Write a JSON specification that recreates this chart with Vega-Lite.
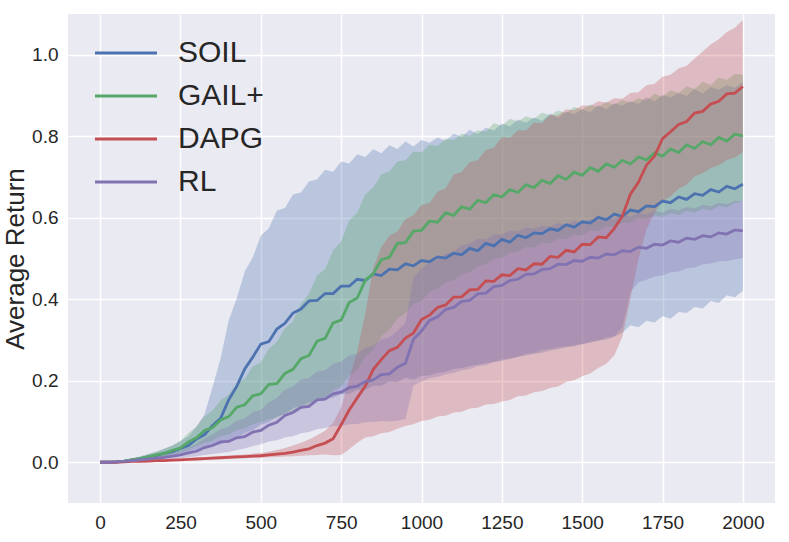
{
  "$schema": "https://vega.github.io/schema/vega-lite/v6.json",
  "width": 707, "height": 489,
  "autosize": {"type": "none"},
  "padding": {"left": 68, "top": 14, "right": 14, "bottom": 39},
  "background": "white",
  "config": {
    "font": "Liberation Sans",
    "view": {"fill": "#EAEAF2", "stroke": null},
    "axis": {
      "domain": false, "ticks": false,
      "grid": true, "gridColor": "white", "gridWidth": 1.5,
      "labelColor": "#262626", "labelFontSize": 19, "labelPadding": 10,
      "titleColor": "#262626", "titleFontWeight": "normal"
    }
  },
  "datasets": {
    "runs": [
      {"x":0,"s":"SOIL","m":0,"lo":0,"hi":0},
      {"x":25,"s":"SOIL","m":0.000,"lo":0.000,"hi":0.001},
      {"x":50,"s":"SOIL","m":0.001,"lo":0.000,"hi":0.003},
      {"x":75,"s":"SOIL","m":0.003,"lo":0.001,"hi":0.006},
      {"x":100,"s":"SOIL","m":0.006,"lo":0.003,"hi":0.010},
      {"x":125,"s":"SOIL","m":0.009,"lo":0.005,"hi":0.014},
      {"x":150,"s":"SOIL","m":0.013,"lo":0.007,"hi":0.020},
      {"x":175,"s":"SOIL","m":0.017,"lo":0.010,"hi":0.026},
      {"x":200,"s":"SOIL","m":0.022,"lo":0.012,"hi":0.033},
      {"x":225,"s":"SOIL","m":0.026,"lo":0.016,"hi":0.041},
      {"x":250,"s":"SOIL","m":0.034,"lo":0.020,"hi":0.052},
      {"x":275,"s":"SOIL","m":0.041,"lo":0.025,"hi":0.063},
      {"x":300,"s":"SOIL","m":0.057,"lo":0.030,"hi":0.088},
      {"x":325,"s":"SOIL","m":0.068,"lo":0.035,"hi":0.118},
      {"x":350,"s":"SOIL","m":0.090,"lo":0.041,"hi":0.185},
      {"x":375,"s":"SOIL","m":0.108,"lo":0.044,"hi":0.255},
      {"x":400,"s":"SOIL","m":0.153,"lo":0.052,"hi":0.348},
      {"x":425,"s":"SOIL","m":0.186,"lo":0.058,"hi":0.402},
      {"x":450,"s":"SOIL","m":0.229,"lo":0.072,"hi":0.468},
      {"x":475,"s":"SOIL","m":0.258,"lo":0.079,"hi":0.503},
      {"x":500,"s":"SOIL","m":0.290,"lo":0.092,"hi":0.556},
      {"x":525,"s":"SOIL","m":0.296,"lo":0.098,"hi":0.574},
      {"x":550,"s":"SOIL","m":0.327,"lo":0.112,"hi":0.618},
      {"x":575,"s":"SOIL","m":0.341,"lo":0.118,"hi":0.624},
      {"x":600,"s":"SOIL","m":0.366,"lo":0.133,"hi":0.657},
      {"x":625,"s":"SOIL","m":0.376,"lo":0.138,"hi":0.662},
      {"x":650,"s":"SOIL","m":0.396,"lo":0.147,"hi":0.689},
      {"x":675,"s":"SOIL","m":0.397,"lo":0.149,"hi":0.694},
      {"x":700,"s":"SOIL","m":0.414,"lo":0.157,"hi":0.718},
      {"x":725,"s":"SOIL","m":0.414,"lo":0.158,"hi":0.713},
      {"x":750,"s":"SOIL","m":0.432,"lo":0.167,"hi":0.738},
      {"x":775,"s":"SOIL","m":0.432,"lo":0.168,"hi":0.733},
      {"x":800,"s":"SOIL","m":0.449,"lo":0.178,"hi":0.756},
      {"x":825,"s":"SOIL","m":0.446,"lo":0.178,"hi":0.749},
      {"x":850,"s":"SOIL","m":0.462,"lo":0.188,"hi":0.768},
      {"x":875,"s":"SOIL","m":0.458,"lo":0.188,"hi":0.758},
      {"x":900,"s":"SOIL","m":0.474,"lo":0.198,"hi":0.778},
      {"x":925,"s":"SOIL","m":0.472,"lo":0.197,"hi":0.769},
      {"x":950,"s":"SOIL","m":0.487,"lo":0.208,"hi":0.787},
      {"x":975,"s":"SOIL","m":0.482,"lo":0.203,"hi":0.775},
      {"x":1000,"s":"SOIL","m":0.495,"lo":0.212,"hi":0.791},
      {"x":1025,"s":"SOIL","m":0.492,"lo":0.213,"hi":0.784},
      {"x":1050,"s":"SOIL","m":0.504,"lo":0.219,"hi":0.797},
      {"x":1075,"s":"SOIL","m":0.501,"lo":0.222,"hi":0.789},
      {"x":1100,"s":"SOIL","m":0.513,"lo":0.229,"hi":0.806},
      {"x":1125,"s":"SOIL","m":0.509,"lo":0.231,"hi":0.799},
      {"x":1150,"s":"SOIL","m":0.525,"lo":0.236,"hi":0.816},
      {"x":1175,"s":"SOIL","m":0.519,"lo":0.239,"hi":0.805},
      {"x":1200,"s":"SOIL","m":0.537,"lo":0.243,"hi":0.821},
      {"x":1225,"s":"SOIL","m":0.531,"lo":0.246,"hi":0.814},
      {"x":1250,"s":"SOIL","m":0.547,"lo":0.252,"hi":0.831},
      {"x":1275,"s":"SOIL","m":0.540,"lo":0.253,"hi":0.824},
      {"x":1300,"s":"SOIL","m":0.557,"lo":0.259,"hi":0.841},
      {"x":1325,"s":"SOIL","m":0.551,"lo":0.262,"hi":0.833},
      {"x":1350,"s":"SOIL","m":0.563,"lo":0.266,"hi":0.846},
      {"x":1375,"s":"SOIL","m":0.561,"lo":0.269,"hi":0.838},
      {"x":1400,"s":"SOIL","m":0.573,"lo":0.274,"hi":0.856},
      {"x":1425,"s":"SOIL","m":0.569,"lo":0.277,"hi":0.845},
      {"x":1450,"s":"SOIL","m":0.583,"lo":0.282,"hi":0.861},
      {"x":1475,"s":"SOIL","m":0.577,"lo":0.284,"hi":0.854},
      {"x":1500,"s":"SOIL","m":0.590,"lo":0.291,"hi":0.866},
      {"x":1525,"s":"SOIL","m":0.587,"lo":0.293,"hi":0.859},
      {"x":1550,"s":"SOIL","m":0.601,"lo":0.299,"hi":0.876},
      {"x":1575,"s":"SOIL","m":0.595,"lo":0.301,"hi":0.866},
      {"x":1600,"s":"SOIL","m":0.609,"lo":0.308,"hi":0.881},
      {"x":1625,"s":"SOIL","m":0.603,"lo":0.318,"hi":0.875},
      {"x":1650,"s":"SOIL","m":0.619,"lo":0.336,"hi":0.886},
      {"x":1675,"s":"SOIL","m":0.615,"lo":0.331,"hi":0.879},
      {"x":1700,"s":"SOIL","m":0.629,"lo":0.347,"hi":0.896},
      {"x":1725,"s":"SOIL","m":0.627,"lo":0.343,"hi":0.885},
      {"x":1750,"s":"SOIL","m":0.641,"lo":0.358,"hi":0.901},
      {"x":1775,"s":"SOIL","m":0.637,"lo":0.352,"hi":0.895},
      {"x":1800,"s":"SOIL","m":0.651,"lo":0.369,"hi":0.906},
      {"x":1825,"s":"SOIL","m":0.645,"lo":0.366,"hi":0.899},
      {"x":1850,"s":"SOIL","m":0.659,"lo":0.381,"hi":0.916},
      {"x":1875,"s":"SOIL","m":0.655,"lo":0.377,"hi":0.905},
      {"x":1900,"s":"SOIL","m":0.669,"lo":0.396,"hi":0.921},
      {"x":1925,"s":"SOIL","m":0.663,"lo":0.391,"hi":0.914},
      {"x":1950,"s":"SOIL","m":0.677,"lo":0.410,"hi":0.926},
      {"x":1975,"s":"SOIL","m":0.671,"lo":0.405,"hi":0.919},
      {"x":2000,"s":"SOIL","m":0.682,"lo":0.421,"hi":0.934},
      {"x":0,"s":"GAIL+","m":0,"lo":0,"hi":0},
      {"x":25,"s":"GAIL+","m":0.000,"lo":0.000,"hi":0.001},
      {"x":50,"s":"GAIL+","m":0.001,"lo":0.000,"hi":0.003},
      {"x":75,"s":"GAIL+","m":0.003,"lo":0.001,"hi":0.006},
      {"x":100,"s":"GAIL+","m":0.006,"lo":0.003,"hi":0.010},
      {"x":125,"s":"GAIL+","m":0.009,"lo":0.005,"hi":0.014},
      {"x":150,"s":"GAIL+","m":0.013,"lo":0.008,"hi":0.020},
      {"x":175,"s":"GAIL+","m":0.018,"lo":0.011,"hi":0.026},
      {"x":200,"s":"GAIL+","m":0.022,"lo":0.014,"hi":0.033},
      {"x":225,"s":"GAIL+","m":0.029,"lo":0.019,"hi":0.041},
      {"x":250,"s":"GAIL+","m":0.035,"lo":0.024,"hi":0.052},
      {"x":275,"s":"GAIL+","m":0.050,"lo":0.031,"hi":0.072},
      {"x":300,"s":"GAIL+","m":0.060,"lo":0.039,"hi":0.088},
      {"x":325,"s":"GAIL+","m":0.078,"lo":0.048,"hi":0.112},
      {"x":350,"s":"GAIL+","m":0.085,"lo":0.053,"hi":0.127},
      {"x":375,"s":"GAIL+","m":0.104,"lo":0.064,"hi":0.152},
      {"x":400,"s":"GAIL+","m":0.112,"lo":0.068,"hi":0.166},
      {"x":425,"s":"GAIL+","m":0.135,"lo":0.079,"hi":0.194},
      {"x":450,"s":"GAIL+","m":0.141,"lo":0.083,"hi":0.205},
      {"x":475,"s":"GAIL+","m":0.163,"lo":0.094,"hi":0.235},
      {"x":500,"s":"GAIL+","m":0.168,"lo":0.098,"hi":0.245},
      {"x":525,"s":"GAIL+","m":0.191,"lo":0.107,"hi":0.278},
      {"x":550,"s":"GAIL+","m":0.193,"lo":0.108,"hi":0.296},
      {"x":575,"s":"GAIL+","m":0.218,"lo":0.121,"hi":0.328},
      {"x":600,"s":"GAIL+","m":0.228,"lo":0.123,"hi":0.346},
      {"x":625,"s":"GAIL+","m":0.254,"lo":0.136,"hi":0.389},
      {"x":650,"s":"GAIL+","m":0.262,"lo":0.138,"hi":0.414},
      {"x":675,"s":"GAIL+","m":0.297,"lo":0.152,"hi":0.458},
      {"x":700,"s":"GAIL+","m":0.304,"lo":0.156,"hi":0.474},
      {"x":725,"s":"GAIL+","m":0.342,"lo":0.176,"hi":0.519},
      {"x":750,"s":"GAIL+","m":0.349,"lo":0.186,"hi":0.542},
      {"x":775,"s":"GAIL+","m":0.392,"lo":0.213,"hi":0.593},
      {"x":800,"s":"GAIL+","m":0.403,"lo":0.226,"hi":0.612},
      {"x":825,"s":"GAIL+","m":0.447,"lo":0.258,"hi":0.657},
      {"x":850,"s":"GAIL+","m":0.463,"lo":0.276,"hi":0.674},
      {"x":875,"s":"GAIL+","m":0.497,"lo":0.309,"hi":0.706},
      {"x":900,"s":"GAIL+","m":0.503,"lo":0.326,"hi":0.714},
      {"x":925,"s":"GAIL+","m":0.537,"lo":0.352,"hi":0.738},
      {"x":950,"s":"GAIL+","m":0.539,"lo":0.366,"hi":0.741},
      {"x":975,"s":"GAIL+","m":0.567,"lo":0.389,"hi":0.762},
      {"x":1000,"s":"GAIL+","m":0.569,"lo":0.396,"hi":0.761},
      {"x":1025,"s":"GAIL+","m":0.592,"lo":0.418,"hi":0.779},
      {"x":1050,"s":"GAIL+","m":0.589,"lo":0.426,"hi":0.776},
      {"x":1075,"s":"GAIL+","m":0.612,"lo":0.442,"hi":0.794},
      {"x":1100,"s":"GAIL+","m":0.606,"lo":0.446,"hi":0.791},
      {"x":1125,"s":"GAIL+","m":0.627,"lo":0.462,"hi":0.806},
      {"x":1150,"s":"GAIL+","m":0.621,"lo":0.466,"hi":0.801},
      {"x":1175,"s":"GAIL+","m":0.643,"lo":0.481,"hi":0.815},
      {"x":1200,"s":"GAIL+","m":0.637,"lo":0.486,"hi":0.811},
      {"x":1225,"s":"GAIL+","m":0.657,"lo":0.499,"hi":0.832},
      {"x":1250,"s":"GAIL+","m":0.651,"lo":0.501,"hi":0.826},
      {"x":1275,"s":"GAIL+","m":0.669,"lo":0.514,"hi":0.843},
      {"x":1300,"s":"GAIL+","m":0.662,"lo":0.516,"hi":0.836},
      {"x":1325,"s":"GAIL+","m":0.681,"lo":0.528,"hi":0.849},
      {"x":1350,"s":"GAIL+","m":0.674,"lo":0.527,"hi":0.843},
      {"x":1375,"s":"GAIL+","m":0.692,"lo":0.539,"hi":0.858},
      {"x":1400,"s":"GAIL+","m":0.684,"lo":0.537,"hi":0.851},
      {"x":1425,"s":"GAIL+","m":0.703,"lo":0.548,"hi":0.863},
      {"x":1450,"s":"GAIL+","m":0.694,"lo":0.547,"hi":0.857},
      {"x":1475,"s":"GAIL+","m":0.712,"lo":0.558,"hi":0.872},
      {"x":1500,"s":"GAIL+","m":0.704,"lo":0.557,"hi":0.866},
      {"x":1525,"s":"GAIL+","m":0.723,"lo":0.568,"hi":0.878},
      {"x":1550,"s":"GAIL+","m":0.714,"lo":0.567,"hi":0.872},
      {"x":1575,"s":"GAIL+","m":0.732,"lo":0.578,"hi":0.884},
      {"x":1600,"s":"GAIL+","m":0.724,"lo":0.577,"hi":0.878},
      {"x":1625,"s":"GAIL+","m":0.741,"lo":0.588,"hi":0.889},
      {"x":1650,"s":"GAIL+","m":0.732,"lo":0.587,"hi":0.883},
      {"x":1675,"s":"GAIL+","m":0.749,"lo":0.598,"hi":0.893},
      {"x":1700,"s":"GAIL+","m":0.742,"lo":0.597,"hi":0.888},
      {"x":1725,"s":"GAIL+","m":0.759,"lo":0.606,"hi":0.904},
      {"x":1750,"s":"GAIL+","m":0.751,"lo":0.602,"hi":0.897},
      {"x":1775,"s":"GAIL+","m":0.769,"lo":0.611,"hi":0.913},
      {"x":1800,"s":"GAIL+","m":0.760,"lo":0.607,"hi":0.906},
      {"x":1825,"s":"GAIL+","m":0.779,"lo":0.617,"hi":0.923},
      {"x":1850,"s":"GAIL+","m":0.770,"lo":0.612,"hi":0.916},
      {"x":1875,"s":"GAIL+","m":0.787,"lo":0.622,"hi":0.934},
      {"x":1900,"s":"GAIL+","m":0.779,"lo":0.618,"hi":0.926},
      {"x":1925,"s":"GAIL+","m":0.797,"lo":0.629,"hi":0.944},
      {"x":1950,"s":"GAIL+","m":0.788,"lo":0.626,"hi":0.938},
      {"x":1975,"s":"GAIL+","m":0.805,"lo":0.636,"hi":0.953},
      {"x":2000,"s":"GAIL+","m":0.801,"lo":0.641,"hi":0.951},
      {"x":0,"s":"DAPG","m":0,"lo":0,"hi":0},
      {"x":25,"s":"DAPG","m":0.000,"lo":0.000,"hi":0.000},
      {"x":50,"s":"DAPG","m":0.000,"lo":0.000,"hi":0.001},
      {"x":75,"s":"DAPG","m":0.001,"lo":0.000,"hi":0.002},
      {"x":100,"s":"DAPG","m":0.002,"lo":0.001,"hi":0.003},
      {"x":125,"s":"DAPG","m":0.002,"lo":0.001,"hi":0.004},
      {"x":150,"s":"DAPG","m":0.003,"lo":0.002,"hi":0.005},
      {"x":175,"s":"DAPG","m":0.004,"lo":0.002,"hi":0.006},
      {"x":200,"s":"DAPG","m":0.004,"lo":0.003,"hi":0.007},
      {"x":225,"s":"DAPG","m":0.005,"lo":0.003,"hi":0.008},
      {"x":250,"s":"DAPG","m":0.006,"lo":0.004,"hi":0.009},
      {"x":275,"s":"DAPG","m":0.007,"lo":0.005,"hi":0.010},
      {"x":300,"s":"DAPG","m":0.008,"lo":0.006,"hi":0.011},
      {"x":325,"s":"DAPG","m":0.009,"lo":0.006,"hi":0.013},
      {"x":350,"s":"DAPG","m":0.010,"lo":0.007,"hi":0.014},
      {"x":375,"s":"DAPG","m":0.011,"lo":0.008,"hi":0.015},
      {"x":400,"s":"DAPG","m":0.012,"lo":0.009,"hi":0.017},
      {"x":425,"s":"DAPG","m":0.013,"lo":0.009,"hi":0.018},
      {"x":450,"s":"DAPG","m":0.014,"lo":0.010,"hi":0.019},
      {"x":475,"s":"DAPG","m":0.015,"lo":0.011,"hi":0.021},
      {"x":500,"s":"DAPG","m":0.016,"lo":0.011,"hi":0.023},
      {"x":525,"s":"DAPG","m":0.018,"lo":0.012,"hi":0.026},
      {"x":550,"s":"DAPG","m":0.020,"lo":0.013,"hi":0.030},
      {"x":575,"s":"DAPG","m":0.022,"lo":0.014,"hi":0.035},
      {"x":600,"s":"DAPG","m":0.025,"lo":0.015,"hi":0.041},
      {"x":625,"s":"DAPG","m":0.029,"lo":0.016,"hi":0.048},
      {"x":650,"s":"DAPG","m":0.033,"lo":0.017,"hi":0.056},
      {"x":675,"s":"DAPG","m":0.041,"lo":0.018,"hi":0.066},
      {"x":700,"s":"DAPG","m":0.047,"lo":0.019,"hi":0.077},
      {"x":725,"s":"DAPG","m":0.058,"lo":0.017,"hi":0.097},
      {"x":750,"s":"DAPG","m":0.092,"lo":0.018,"hi":0.135},
      {"x":775,"s":"DAPG","m":0.128,"lo":0.032,"hi":0.205},
      {"x":800,"s":"DAPG","m":0.158,"lo":0.048,"hi":0.272},
      {"x":825,"s":"DAPG","m":0.187,"lo":0.061,"hi":0.365},
      {"x":850,"s":"DAPG","m":0.228,"lo":0.064,"hi":0.478},
      {"x":875,"s":"DAPG","m":0.252,"lo":0.071,"hi":0.528},
      {"x":900,"s":"DAPG","m":0.274,"lo":0.074,"hi":0.556},
      {"x":925,"s":"DAPG","m":0.282,"lo":0.082,"hi":0.566},
      {"x":950,"s":"DAPG","m":0.305,"lo":0.089,"hi":0.597},
      {"x":975,"s":"DAPG","m":0.317,"lo":0.093,"hi":0.606},
      {"x":1000,"s":"DAPG","m":0.350,"lo":0.101,"hi":0.631},
      {"x":1025,"s":"DAPG","m":0.361,"lo":0.104,"hi":0.636},
      {"x":1050,"s":"DAPG","m":0.380,"lo":0.112,"hi":0.664},
      {"x":1075,"s":"DAPG","m":0.386,"lo":0.114,"hi":0.672},
      {"x":1100,"s":"DAPG","m":0.405,"lo":0.122,"hi":0.706},
      {"x":1125,"s":"DAPG","m":0.406,"lo":0.124,"hi":0.712},
      {"x":1150,"s":"DAPG","m":0.423,"lo":0.132,"hi":0.736},
      {"x":1175,"s":"DAPG","m":0.424,"lo":0.134,"hi":0.741},
      {"x":1200,"s":"DAPG","m":0.445,"lo":0.142,"hi":0.766},
      {"x":1225,"s":"DAPG","m":0.444,"lo":0.143,"hi":0.772},
      {"x":1250,"s":"DAPG","m":0.460,"lo":0.149,"hi":0.798},
      {"x":1275,"s":"DAPG","m":0.458,"lo":0.153,"hi":0.796},
      {"x":1300,"s":"DAPG","m":0.475,"lo":0.162,"hi":0.815},
      {"x":1325,"s":"DAPG","m":0.472,"lo":0.164,"hi":0.814},
      {"x":1350,"s":"DAPG","m":0.487,"lo":0.172,"hi":0.833},
      {"x":1375,"s":"DAPG","m":0.486,"lo":0.175,"hi":0.832},
      {"x":1400,"s":"DAPG","m":0.505,"lo":0.182,"hi":0.852},
      {"x":1425,"s":"DAPG","m":0.503,"lo":0.186,"hi":0.851},
      {"x":1450,"s":"DAPG","m":0.520,"lo":0.197,"hi":0.866},
      {"x":1475,"s":"DAPG","m":0.516,"lo":0.201,"hi":0.864},
      {"x":1500,"s":"DAPG","m":0.535,"lo":0.211,"hi":0.876},
      {"x":1525,"s":"DAPG","m":0.534,"lo":0.218,"hi":0.874},
      {"x":1550,"s":"DAPG","m":0.553,"lo":0.231,"hi":0.886},
      {"x":1575,"s":"DAPG","m":0.551,"lo":0.242,"hi":0.883},
      {"x":1600,"s":"DAPG","m":0.574,"lo":0.262,"hi":0.893},
      {"x":1625,"s":"DAPG","m":0.604,"lo":0.308,"hi":0.892},
      {"x":1650,"s":"DAPG","m":0.658,"lo":0.402,"hi":0.906},
      {"x":1675,"s":"DAPG","m":0.687,"lo":0.498,"hi":0.908},
      {"x":1700,"s":"DAPG","m":0.729,"lo":0.571,"hi":0.925},
      {"x":1725,"s":"DAPG","m":0.751,"lo":0.612,"hi":0.929},
      {"x":1750,"s":"DAPG","m":0.794,"lo":0.641,"hi":0.946},
      {"x":1775,"s":"DAPG","m":0.811,"lo":0.652,"hi":0.951},
      {"x":1800,"s":"DAPG","m":0.829,"lo":0.671,"hi":0.966},
      {"x":1825,"s":"DAPG","m":0.836,"lo":0.681,"hi":0.973},
      {"x":1850,"s":"DAPG","m":0.857,"lo":0.702,"hi":0.991},
      {"x":1875,"s":"DAPG","m":0.861,"lo":0.709,"hi":1.008},
      {"x":1900,"s":"DAPG","m":0.879,"lo":0.722,"hi":1.025},
      {"x":1925,"s":"DAPG","m":0.886,"lo":0.729,"hi":1.038},
      {"x":1950,"s":"DAPG","m":0.904,"lo":0.742,"hi":1.056},
      {"x":1975,"s":"DAPG","m":0.906,"lo":0.748,"hi":1.066},
      {"x":2000,"s":"DAPG","m":0.922,"lo":0.761,"hi":1.085},
      {"x":0,"s":"RL","m":0,"lo":0,"hi":0},
      {"x":25,"s":"RL","m":0.000,"lo":0.000,"hi":0.000},
      {"x":50,"s":"RL","m":0.001,"lo":0.000,"hi":0.002},
      {"x":75,"s":"RL","m":0.002,"lo":0.001,"hi":0.004},
      {"x":100,"s":"RL","m":0.004,"lo":0.002,"hi":0.006},
      {"x":125,"s":"RL","m":0.006,"lo":0.003,"hi":0.009},
      {"x":150,"s":"RL","m":0.008,"lo":0.004,"hi":0.012},
      {"x":175,"s":"RL","m":0.010,"lo":0.005,"hi":0.015},
      {"x":200,"s":"RL","m":0.012,"lo":0.006,"hi":0.018},
      {"x":225,"s":"RL","m":0.015,"lo":0.008,"hi":0.023},
      {"x":250,"s":"RL","m":0.018,"lo":0.010,"hi":0.028},
      {"x":275,"s":"RL","m":0.023,"lo":0.012,"hi":0.036},
      {"x":300,"s":"RL","m":0.027,"lo":0.015,"hi":0.045},
      {"x":325,"s":"RL","m":0.036,"lo":0.018,"hi":0.058},
      {"x":350,"s":"RL","m":0.041,"lo":0.020,"hi":0.068},
      {"x":375,"s":"RL","m":0.050,"lo":0.023,"hi":0.081},
      {"x":400,"s":"RL","m":0.051,"lo":0.025,"hi":0.088},
      {"x":425,"s":"RL","m":0.060,"lo":0.030,"hi":0.102},
      {"x":450,"s":"RL","m":0.063,"lo":0.034,"hi":0.108},
      {"x":475,"s":"RL","m":0.074,"lo":0.040,"hi":0.123},
      {"x":500,"s":"RL","m":0.078,"lo":0.044,"hi":0.128},
      {"x":525,"s":"RL","m":0.091,"lo":0.051,"hi":0.147},
      {"x":550,"s":"RL","m":0.098,"lo":0.054,"hi":0.158},
      {"x":575,"s":"RL","m":0.115,"lo":0.061,"hi":0.178},
      {"x":600,"s":"RL","m":0.122,"lo":0.064,"hi":0.186},
      {"x":625,"s":"RL","m":0.135,"lo":0.071,"hi":0.203},
      {"x":650,"s":"RL","m":0.137,"lo":0.074,"hi":0.207},
      {"x":675,"s":"RL","m":0.153,"lo":0.081,"hi":0.223},
      {"x":700,"s":"RL","m":0.155,"lo":0.084,"hi":0.226},
      {"x":725,"s":"RL","m":0.168,"lo":0.089,"hi":0.242},
      {"x":750,"s":"RL","m":0.172,"lo":0.089,"hi":0.247},
      {"x":775,"s":"RL","m":0.183,"lo":0.093,"hi":0.262},
      {"x":800,"s":"RL","m":0.187,"lo":0.094,"hi":0.266},
      {"x":825,"s":"RL","m":0.198,"lo":0.098,"hi":0.281},
      {"x":850,"s":"RL","m":0.202,"lo":0.099,"hi":0.286},
      {"x":875,"s":"RL","m":0.215,"lo":0.101,"hi":0.302},
      {"x":900,"s":"RL","m":0.217,"lo":0.100,"hi":0.306},
      {"x":925,"s":"RL","m":0.233,"lo":0.102,"hi":0.323},
      {"x":950,"s":"RL","m":0.243,"lo":0.106,"hi":0.342},
      {"x":975,"s":"RL","m":0.302,"lo":0.189,"hi":0.452},
      {"x":1000,"s":"RL","m":0.322,"lo":0.198,"hi":0.476},
      {"x":1025,"s":"RL","m":0.348,"lo":0.206,"hi":0.491},
      {"x":1050,"s":"RL","m":0.357,"lo":0.209,"hi":0.497},
      {"x":1075,"s":"RL","m":0.375,"lo":0.216,"hi":0.512},
      {"x":1100,"s":"RL","m":0.380,"lo":0.219,"hi":0.517},
      {"x":1125,"s":"RL","m":0.395,"lo":0.226,"hi":0.532},
      {"x":1150,"s":"RL","m":0.397,"lo":0.229,"hi":0.537},
      {"x":1175,"s":"RL","m":0.413,"lo":0.236,"hi":0.548},
      {"x":1200,"s":"RL","m":0.415,"lo":0.238,"hi":0.547},
      {"x":1225,"s":"RL","m":0.431,"lo":0.246,"hi":0.559},
      {"x":1250,"s":"RL","m":0.434,"lo":0.248,"hi":0.558},
      {"x":1275,"s":"RL","m":0.446,"lo":0.256,"hi":0.569},
      {"x":1300,"s":"RL","m":0.449,"lo":0.258,"hi":0.567},
      {"x":1325,"s":"RL","m":0.461,"lo":0.266,"hi":0.576},
      {"x":1350,"s":"RL","m":0.462,"lo":0.268,"hi":0.573},
      {"x":1375,"s":"RL","m":0.473,"lo":0.276,"hi":0.581},
      {"x":1400,"s":"RL","m":0.475,"lo":0.278,"hi":0.578},
      {"x":1425,"s":"RL","m":0.486,"lo":0.283,"hi":0.587},
      {"x":1450,"s":"RL","m":0.485,"lo":0.284,"hi":0.583},
      {"x":1475,"s":"RL","m":0.495,"lo":0.288,"hi":0.592},
      {"x":1500,"s":"RL","m":0.493,"lo":0.289,"hi":0.588},
      {"x":1525,"s":"RL","m":0.503,"lo":0.296,"hi":0.597},
      {"x":1550,"s":"RL","m":0.501,"lo":0.298,"hi":0.593},
      {"x":1575,"s":"RL","m":0.511,"lo":0.306,"hi":0.602},
      {"x":1600,"s":"RL","m":0.509,"lo":0.309,"hi":0.598},
      {"x":1625,"s":"RL","m":0.519,"lo":0.331,"hi":0.607},
      {"x":1650,"s":"RL","m":0.517,"lo":0.418,"hi":0.603},
      {"x":1675,"s":"RL","m":0.528,"lo":0.442,"hi":0.612},
      {"x":1700,"s":"RL","m":0.525,"lo":0.448,"hi":0.608},
      {"x":1725,"s":"RL","m":0.535,"lo":0.456,"hi":0.617},
      {"x":1750,"s":"RL","m":0.533,"lo":0.458,"hi":0.613},
      {"x":1775,"s":"RL","m":0.543,"lo":0.466,"hi":0.622},
      {"x":1800,"s":"RL","m":0.540,"lo":0.468,"hi":0.618},
      {"x":1825,"s":"RL","m":0.550,"lo":0.476,"hi":0.627},
      {"x":1850,"s":"RL","m":0.547,"lo":0.478,"hi":0.623},
      {"x":1875,"s":"RL","m":0.556,"lo":0.486,"hi":0.632},
      {"x":1900,"s":"RL","m":0.553,"lo":0.488,"hi":0.628},
      {"x":1925,"s":"RL","m":0.563,"lo":0.493,"hi":0.637},
      {"x":1950,"s":"RL","m":0.560,"lo":0.494,"hi":0.633},
      {"x":1975,"s":"RL","m":0.570,"lo":0.498,"hi":0.642},
      {"x":2000,"s":"RL","m":0.568,"lo":0.501,"hi":0.640}
    ]
  },
  "data": {"name": "runs"},
  "layer": [
    {
      "mark": {"type": "area", "fillOpacity": 0.3},
      "encoding": {
        "x": {"field": "x", "type": "quantitative",
              "scale": {"domain": [-100, 2100], "nice": false, "zero": false},
              "axis": {"title": null, "format": "d", "values": [0, 250, 500, 750, 1000, 1250, 1500, 1750, 2000]}},
        "y": {"field": "lo", "type": "quantitative",
              "scale": {"domain": [-0.1, 1.1], "nice": false, "zero": false},
              "axis": {"title": "Average Return", "titleFontSize": 26, "titlePadding": 3,
                       "values": [0, 0.2, 0.4, 0.6, 0.8, 1.0], "format": ".1f"}},
        "y2": {"field": "hi"},
        "color": {"field": "s", "type": "nominal", "sort": null,
                  "scale": {"domain": ["SOIL", "GAIL+", "DAPG", "RL"],
                            "range": ["#4C72B0", "#55A868", "#C44E52", "#8172B2"]}}
      }
    },
    {
      "mark": {"type": "line", "strokeWidth": 2.8},
      "encoding": {
        "x": {"field": "x", "type": "quantitative"},
        "y": {"field": "m", "type": "quantitative"},
        "color": {"field": "s", "type": "nominal", "sort": null,
                  "legend": {"title": null, "orient": "none", "legendX": 43, "legendY": 24,
                             "symbolType": "M-3,0H3", "symbolSize": 427, "symbolStrokeWidth": 3,
                             "symbolOpacity": 1,
                             "labelFontSize": 30, "labelColor": "#262626", "labelOffset": 37,
                             "rowPadding": 13, "labelLimit": 300}}
      }
    }
  ]
}
